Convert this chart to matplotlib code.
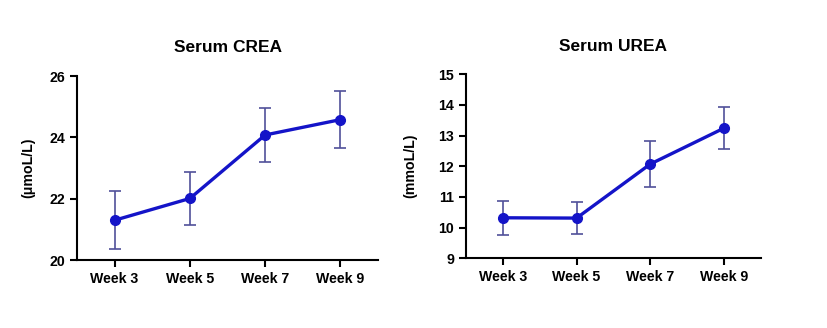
import matplotlib
matplotlib.use("Agg")
import matplotlib.pyplot as plt

plt.rcParams['font.family'] = ['Liberation Sans', 'DejaVu Sans']
plt.rcParams['font.weight'] = 'bold'

weeks = ["Week 3", "Week 5", "Week 7", "Week 9"]

crea_mean = [21.30, 22.01, 24.08, 24.58]
crea_err = [0.95, 0.87, 0.87, 0.93]

urea_mean = [10.32, 10.31, 12.07, 13.24]
urea_err = [0.55, 0.51, 0.76, 0.69]

line_col = "#1414c8"
err_col = "#50509a"


def draw(ax, mean, err, title, ylabel, ylim, yticks, label_x):
    x = list(range(len(weeks)))
    ax.errorbar(x, mean, yerr=err, fmt="none", ecolor=err_col, elinewidth=1.2,
                capsize=4, capthick=1.2, zorder=2)
    ax.plot(x, mean, "-o", color=line_col, lw=2.4, ms=7, zorder=3)
    ax.set_xlim(-0.5, 3.5)
    ax.set_ylim(*ylim)
    ax.set_yticks(yticks)
    ax.set_xticks(x)
    ax.set_xticklabels(weeks)
    ax.set_title(title, fontsize=12.5, fontweight="bold", pad=17)
    ax.set_ylabel(ylabel, fontsize=10.2, fontweight="bold")
    ax.yaxis.set_label_coords(label_x, 0.5)
    for s in ["top", "right"]:
        ax.spines[s].set_visible(False)
    for s in ["left", "bottom"]:
        ax.spines[s].set_linewidth(1.5)
    ax.tick_params(width=1.5, length=5, labelsize=10.2)
    ax.set_clip_on(False)


fig = plt.figure(figsize=(8.27, 3.28), dpi=100)
ax1 = fig.add_axes([0.0931, 0.207, 0.364, 0.561])
ax2 = fig.add_axes([0.5635, 0.2125, 0.3565, 0.5615])

draw(ax1, crea_mean, crea_err, "Serum CREA", "(μmoL/L)", (20, 26), [20, 22, 24, 26], -0.14)
draw(ax2, urea_mean, urea_err, "Serum UREA", "(mmoL/L)", (9, 15), range(9, 16), -0.165)

fig.savefig("out.png", dpi=100)
